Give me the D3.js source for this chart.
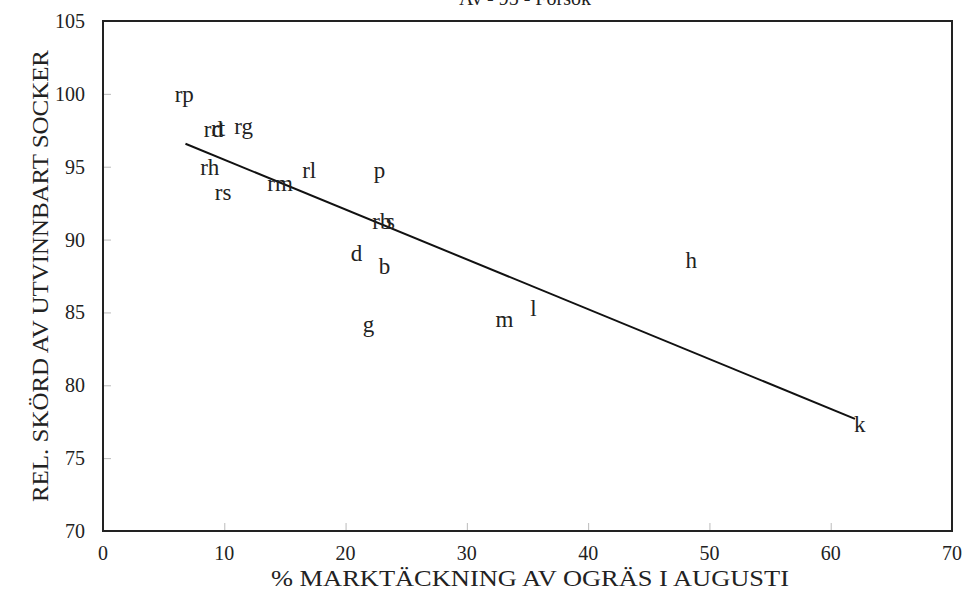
<!DOCTYPE html>
<html>
<head>
<meta charset="utf-8">
<script src="https://cdn.jsdelivr.net/npm/d3@7"></script>
<style>
  html, body { margin: 0; padding: 0; background: #fff; }
  svg { display: block; }
  text { font-family: "Liberation Serif", "DejaVu Serif", serif; fill: #222; }
</style>
</head>
<body>
<svg id="chart" width="966" height="590"></svg>
<script>
// Treatment codes and their observations
const codes    = ["rp", "rd", "rt", "rg", "rh", "rs", "rm", "rl", "p", "rb", "s", "d", "b", "g", "m", "l", "h", "k"];
const coverage = [6.7, 9.1, 9.5, 11.6, 8.8, 9.9, 14.6, 17.0, 22.8, 23.0, 23.7, 20.9, 23.2, 21.9, 33.1, 35.5, 48.5, 62.4];
const yieldRel = [99.9, 97.5, 97.6, 97.7, 94.9, 93.2, 93.8, 94.7, 94.7, 91.2, 91.2, 89.0, 88.1, 84.1, 84.5, 85.2, 88.5, 77.3];

// Fitted regression line: yield = a + b * coverage
const fitIntercept = 98.9;
const fitSlope = -0.342;
const fitRange = [6.8, 62.0];

const xTicks = [0, 10, 20, 30, 40, 50, 60, 70];
const yTicks = [70, 75, 80, 85, 90, 95, 100, 105];

const title = "Av - 95 - Försök";
const xTitle = "% MARKTÄCKNING AV OGRÄS I AUGUSTI";
const yTitle = "REL. SKÖRD AV UTVINNBART SOCKER";

const svg = d3.select("#chart");
const plotLeft = 103, plotRight = 952, plotTop = 21, plotBottom = 531;

const x = d3.scaleLinear().domain([0, 70]).range([plotLeft, plotRight]);
const y = d3.scaleLinear().domain([70, 105]).range([plotBottom, plotTop]);

// Title (partly above the page edge)
svg.append("text")
  .attr("x", 525).attr("y", 5)
  .attr("text-anchor", "middle")
  .style("font-size", "20px")
  .text(title);

// Inner tick marks
const xAxis = d3.axisTop(x).tickValues(xTicks).tickSize(8).tickFormat("");
const yAxis = d3.axisRight(y).tickValues(yTicks).tickSize(8).tickFormat("");

svg.append("g").attr("transform", `translate(0,${plotBottom})`).call(xAxis)
  .call(g => g.select(".domain").remove())
  .call(g => g.selectAll("line").attr("stroke", "#bbb").attr("stroke-width", 1));
svg.append("g").attr("transform", `translate(${plotLeft},0)`).call(yAxis)
  .call(g => g.select(".domain").remove())
  .call(g => g.selectAll("line").attr("stroke", "#bbb").attr("stroke-width", 1));

// Tick labels
svg.append("g").selectAll("text").data(xTicks).join("text")
  .attr("x", d => x(d)).attr("y", plotBottom + 29)
  .attr("text-anchor", "middle")
  .style("font-size", "20px")
  .text(d => d);
svg.append("g").selectAll("text").data(yTicks).join("text")
  .attr("x", plotLeft - 18).attr("y", d => y(d)).attr("dy", "0.35em")
  .attr("text-anchor", "end")
  .style("font-size", "20px")
  .text(d => d);

// Frame
svg.append("rect")
  .attr("x", plotLeft).attr("y", plotTop)
  .attr("width", plotRight - plotLeft).attr("height", plotBottom - plotTop)
  .attr("fill", "none").attr("stroke", "#222").attr("stroke-width", 2);

// Regression line
svg.append("line")
  .attr("x1", x(fitRange[0])).attr("y1", y(fitIntercept + fitSlope * fitRange[0]))
  .attr("x2", x(fitRange[1])).attr("y2", y(fitIntercept + fitSlope * fitRange[1]))
  .attr("stroke", "#111").attr("stroke-width", 2);

// Point labels
svg.append("g").selectAll("text").data(codes).join("text")
  .attr("x", (d, i) => x(coverage[i]))
  .attr("y", (d, i) => y(yieldRel[i]))
  .attr("dy", "0.3em")
  .attr("text-anchor", "middle")
  .style("font-size", "23px")
  .text(d => d);

// Axis titles
svg.append("text")
  .attr("x", 530).attr("y", 586)
  .attr("text-anchor", "middle")
  .attr("textLength", 518)
  .attr("lengthAdjust", "spacingAndGlyphs")
  .style("font-size", "24px")
  .text(xTitle);
svg.append("text")
  .attr("transform", `translate(48,${(plotTop + plotBottom) / 2}) rotate(-90)`)
  .attr("text-anchor", "middle")
  .attr("textLength", 452)
  .attr("lengthAdjust", "spacingAndGlyphs")
  .style("font-size", "24px")
  .text(yTitle);
</script>
</body>
</html>
